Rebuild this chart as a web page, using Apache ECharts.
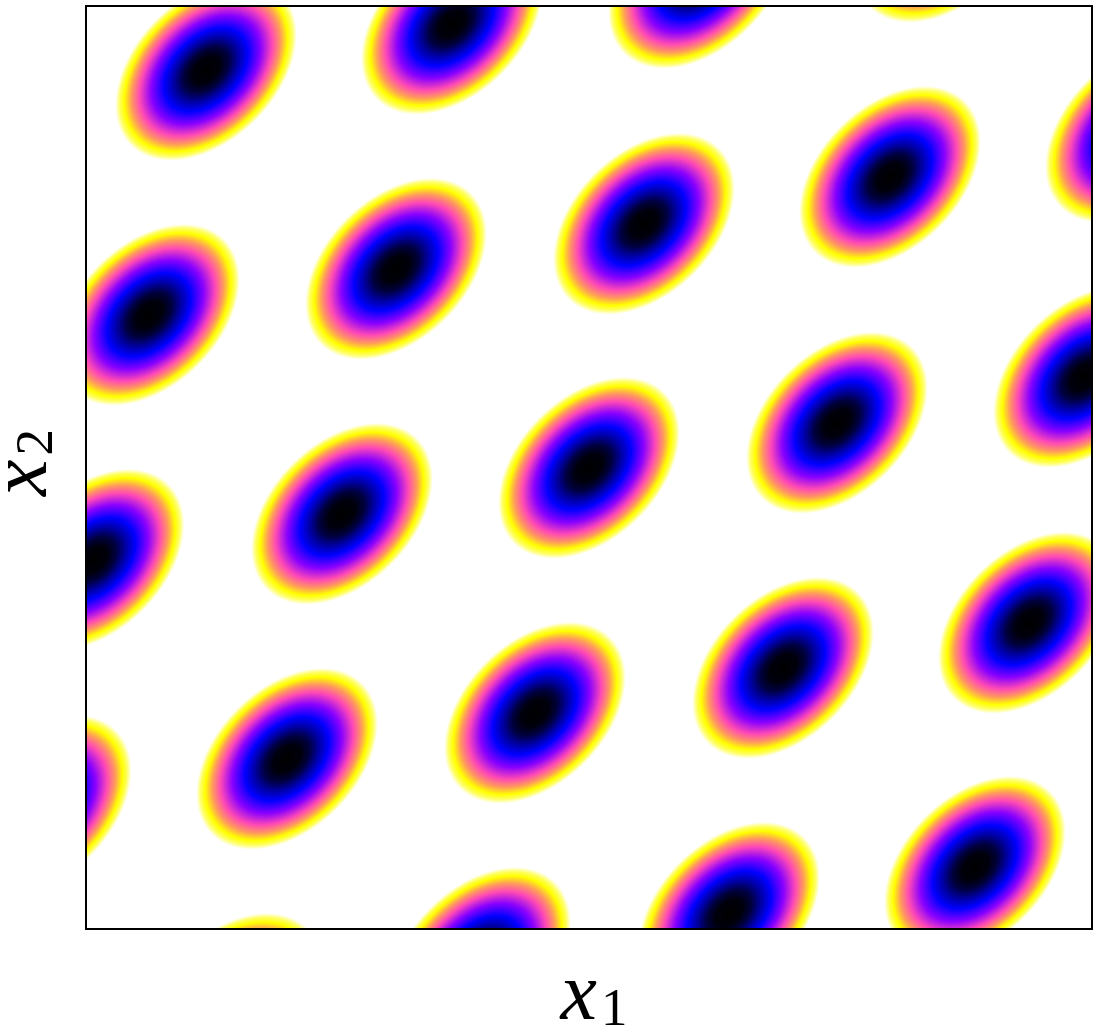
<!DOCTYPE html>
<html>
<head>
<meta charset="utf-8">
<style>
  html, body { margin: 0; padding: 0; background: #fff; }
  #chart { width: 1099px; height: 1028px; }
</style>
<script src="https://cdn.jsdelivr.net/npm/echarts@6/dist/echarts.min.js"></script>
</head>
<body>
<div id="chart"></div>
<script>
// minima of the field (both axes run 0..100, ticks hidden)
const centreX = [11.93, 36.38, 60.94, 85.39, 6.26, 30.82, 55.47, 79.92, 104.37, 0.75, 25.45, 50.00, 74.65, 99.21, -4.50, 19.98, 44.63, 69.29, 93.74, 14.51, 39.17, 63.92, 88.37]
const centreY = [93.08, 98.07, 103.05, 108.04, 66.54, 71.52, 76.40, 81.49, 86.37, 40.00, 44.98, 49.96, 54.84, 59.82, 13.34, 18.44, 23.42, 28.29, 33.17, -8.11, -3.13, 1.75, 6.73]

// colour ramp from the centre of a blob (0) to its rim (1)
const rampOffsets = [0, 0.15, 0.25, 0.35, 0.46, 0.6, 0.73, 0.82, 0.9, 0.95, 1]
const rampColors = ['#000000', '#00000c', '#000040', '#0000a0', '#0000ff', '#8800ff', '#ff49b6', '#ff9a5c', '#ffff00', '#ffff60', '#ffffff']

const chart = echarts.init(document.getElementById('chart'))

const colorStops = rampOffsets.map((o, i) => ({ offset: o, color: rampColors[i] }))

const labelRich = {
  v: { fontFamily: 'Liberation Serif', fontStyle: 'italic', fontSize: 82, lineHeight: 80, verticalAlign: 'bottom', padding: [0, 4, 0, 10], color: '#000' },
  s: { fontFamily: 'Liberation Serif', fontSize: 53, lineHeight: 60, verticalAlign: 'bottom', color: '#000' }
}

function renderBlob (params, api) {
  const p = api.coord([api.value(0), api.value(1)])
  return {
    type: 'circle',
    x: p[0],
    y: p[1],
    rotation: Math.PI / 4,
    scaleX: 1.07,
    scaleY: 0.71,
    shape: { cx: 0, cy: 0, r: 100 },
    style: {
      fill: { type: 'radial', x: 0.5, y: 0.5, r: 0.5, colorStops: colorStops }
    }
  }
}

chart.setOption({
  animation: false,
  backgroundColor: '#fff',
  grid: {
    show: true,
    z: 5,
    left: 86,
    right: 7,
    top: 6,
    bottom: 99,
    containLabel: false,
    outerBoundsMode: 'none',
    backgroundColor: 'transparent',
    borderColor: '#000',
    borderWidth: 2
  },
  xAxis: {
    type: 'value',
    min: 0,
    max: 100,
    axisLine: { show: false },
    axisTick: { show: false },
    axisLabel: { show: false },
    splitLine: { show: false },
    name: '{v|x}{s|1}',
    nameLocation: 'middle',
    nameGap: 29,
    nameTextStyle: { rich: labelRich }
  },
  yAxis: {
    type: 'value',
    min: 0,
    max: 100,
    axisLine: { show: false },
    axisTick: { show: false },
    axisLabel: { show: false },
    splitLine: { show: false },
    name: '{v|x}{s|2}',
    nameLocation: 'middle',
    nameRotate: 90,
    nameGap: 21,
    nameTextStyle: { rich: labelRich }
  },
  series: [{
    type: 'custom',
    coordinateSystem: 'cartesian2d',
    clip: true,
    silent: true,
    renderItem: renderBlob,
    encode: { x: 0, y: 1 },
    data: centreX.map((x, i) => [x, centreY[i]])
  }]
})
</script>
</body>
</html>
